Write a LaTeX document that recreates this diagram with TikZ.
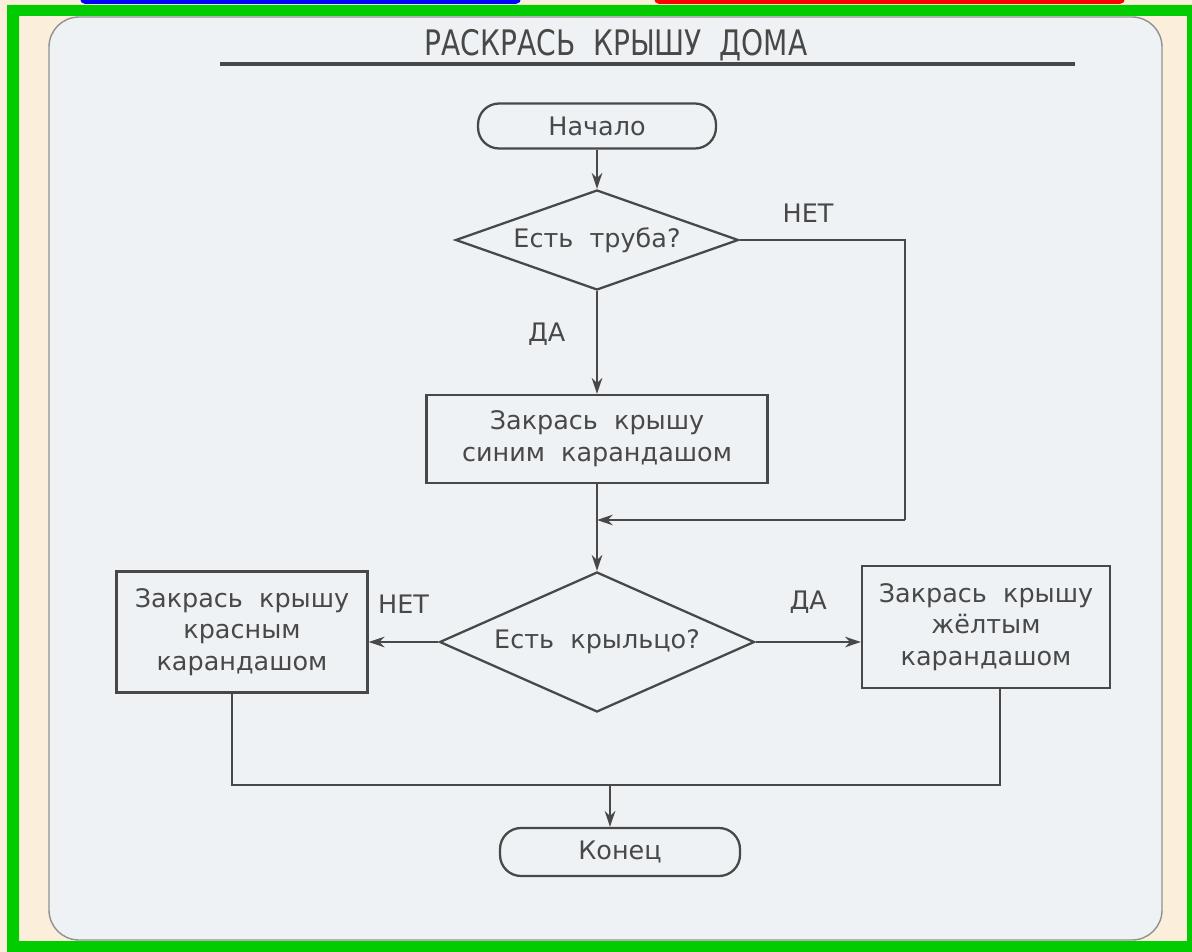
\documentclass[tikz,border=0pt]{standalone}
\usepackage{fontspec}
\setmainfont{DejaVu Sans}
\newfontfamily\titlefont[FakeStretch=0.8]{DejaVu Sans}
\usetikzlibrary{shapes.geometric,arrows.meta}

\definecolor{ink}{HTML}{484848}
\definecolor{paper}{HTML}{FBEFDB}
\definecolor{panel}{HTML}{EEF2F5}
\definecolor{frame}{HTML}{00CC00}

\tikzset{
  txt/.style={font=\fontsize{14.5}{18}\selectfont, text=ink},
  term/.style={txt, draw=ink, line width=1.3pt, rounded corners=0.42cm, minimum width=4.76cm, minimum height=0.9cm},
  action/.style={txt, draw=ink, line width=1.3pt, align=center, inner sep=2pt},
  test/.style={txt, draw=ink, line width=1.3pt, diamond, inner sep=0pt},
  arr/.style={draw=ink, line width=1.3pt, -{Stealth[length=9pt,width=6pt]}},
  wire/.style={draw=ink, line width=1.3pt},
  lbl/.style={txt}
}

\begin{document}
\begin{tikzpicture}[x=0.02cm,y=-0.02cm]
\useasboundingbox (0,0) rectangle (1192,952);
% page and frame
\fill[paper] (0,0) rectangle (1192,952);
\fill[blue, rounded corners=3pt] (80,-6) rectangle (521,4);
\fill[red, rounded corners=3pt] (654,-6) rectangle (1125,4);
\fill[frame, even odd rule] (7,5) rectangle (1192,952) (19,16) rectangle (1187,941);
\filldraw[fill=panel, draw=ink!60, line width=0.8pt, rounded corners=0.6cm] (49,17) rectangle (1162,940);

% title
\node[text=ink] (title) at (616,45) {\titlefont\fontsize{20}{24}\selectfont РАСКРАСЬ\ \ КРЫШУ\ \ ДОМА};
\draw[ink, line width=1.8pt] (220,64) -- (1075,64);

% blocks
\node[term] (start) at (597,126) {Начало};
\node[test, aspect=2.83, minimum width=5.66cm, minimum height=2cm] (q1) at (597,240) {Есть\ \ труба?};
\node[action, minimum width=6.82cm, minimum height=1.76cm] (blue) at (597,439) {Закрась\ \ крышу\\ синим\ \ карандашом};
\node[test, aspect=2.25, minimum width=6.3cm, minimum height=2.8cm] (q2) at (597,642) {Есть\ \ крыльцо?};
\node[action, minimum width=5.02cm, minimum height=2.42cm] (red) at (242,632) {Закрась\ \ крышу\\ красным\\ карандашом};
\node[action, minimum width=4.96cm, minimum height=2.44cm] (yellow) at (986,627) {Закрась\ \ крышу\\ жёлтым\\ карандашом};
\node[term, minimum width=4.8cm, minimum height=0.96cm] (end) at (620,852) {Конец};

\coordinate (join) at (597,520);
\coordinate (nocorner) at (905,520);
\coordinate (merge) at (610,785);

% connectors
\draw[arr] (start) -- (q1);
\draw[arr] (q1) -- node[lbl, left=14pt, pos=0.42] {ДА} (blue);
\draw[wire] (q1.east) -| (nocorner);
\draw[arr] (nocorner) -- (join);
\node[lbl] at (808,213) {НЕТ};
\draw[wire] (blue) -- (join);
\draw[arr] (join) -- (q2);
\draw[arr] (q2.west) -- node[lbl, above=12pt] {НЕТ} (q2.west -| red.east);
\draw[arr] (q2.east) -- node[lbl, above=12pt] {ДА} (q2.east -| yellow.west);
\draw[wire] (red.south -| 232,0) |- (merge);
\draw[wire] (yellow.south -| 1000,0) |- (merge);
\draw[arr] (merge) -- (merge |- end.north);
\end{tikzpicture}
\end{document}
